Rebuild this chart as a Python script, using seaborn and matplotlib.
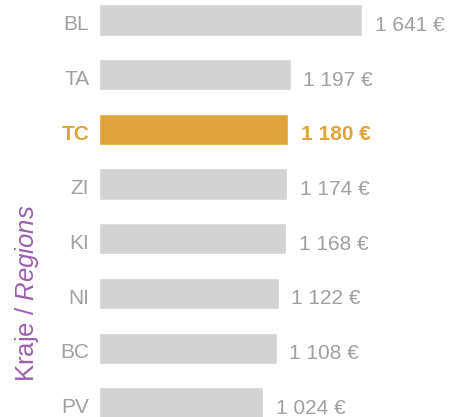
import matplotlib
matplotlib.use("Agg")
import matplotlib.pyplot as plt
import matplotlib.transforms as mtransforms
import seaborn as sns
import pandas as pd

# data
regions = ["BL", "TA", "TC", "ZI", "KI", "NI", "BC", "PV"]
wages = [1641, 1197, 1180, 1174, 1168, 1122, 1108, 1024]
highlight = "TC"

GREY_BAR = "#d4d3d4"
GREY_TXT = "#a0a0a0"
ORANGE = "#e1a43c"
PURPLE = "#9b5fae"

sns.set_theme(style="white")
plt.rcParams['font.family'] = ['Liberation Sans', 'DejaVu Sans']
plt.rcParams['mathtext.fontset'] = 'custom'
plt.rcParams['mathtext.it'] = 'Liberation Sans:italic'
plt.rcParams['mathtext.rm'] = 'Liberation Sans'

df = pd.DataFrame({'Region': regions, 'Wage': wages})
palette = {r: (ORANGE if r == highlight else GREY_BAR) for r in regions}

fig = plt.figure(figsize=(4.49, 4.17), dpi=100)
ax = fig.add_axes([99 / 449, 0, 350 / 449, 1])

sns.barplot(data=df, x='Wage', y='Region', hue='Region', palette=palette,
            legend=False, width=0.57, orient='h', ax=ax, saturation=1)

ax.set_xlim(0, 2183)
ax.set_ylim(7.26, -0.366)
for s in ax.spines.values():
    s.set_visible(False)
ax.set_xticks([])
ax.set_xlabel("")
ax.tick_params(axis='y', length=0, pad=7, labelsize=15, labelcolor=GREY_TXT)

# nudge the region labels down a touch
shift = mtransforms.ScaledTranslation(0, -2 / 72, fig.dpi_scale_trans)
for lab in ax.get_yticklabels():
    lab.set_transform(lab.get_transform() + shift)
    if lab.get_text() == highlight:
        lab.set_color(ORANGE)
        lab.set_fontweight('bold')

# value labels
for i, (r, v) in enumerate(zip(regions, wages)):
    txt = f"{v:,} €".replace(",", " ")
    is_hl = r == highlight
    ax.annotate(txt, xy=(v, i), xytext=(9, -4), textcoords='offset points',
                va='center', ha='left', fontsize=15,
                color=ORANGE if is_hl else GREY_TXT,
                fontweight='bold' if is_hl else 'normal')

ax.set_ylabel(r"Kraje / $\it{Regions}$", color=PURPLE, fontsize=18.5)
ax.yaxis.set_label_coords(-0.165, 0.297)

fig.savefig("out.png", dpi=100, facecolor='white')
